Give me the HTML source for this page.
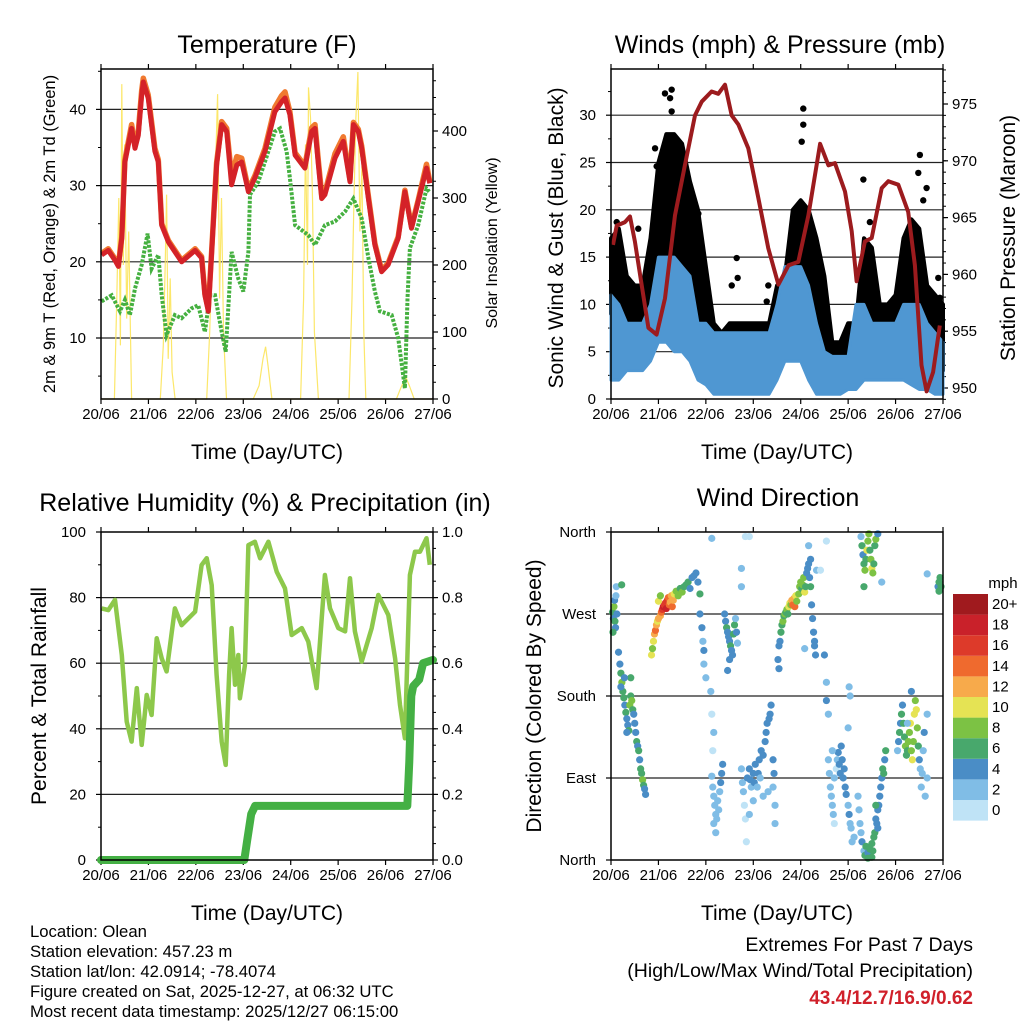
<!DOCTYPE html>
<html><head><meta charset="utf-8"><style>
html,body{margin:0;padding:0;background:#fff;}
svg{display:block;font-family:"Liberation Sans",sans-serif;}
</style></head><body>
<svg id="root" width="1024" height="1024" viewBox="0 0 1024 1024" xmlns="http://www.w3.org/2000/svg">
<rect x="0" y="0" width="1024" height="1024" fill="#fff"/>
<text x="267" y="53" font-size="25" text-anchor="middle">Temperature (F)</text>
<text x="780" y="53" font-size="25" text-anchor="middle">Winds (mph) &amp; Pressure (mb)</text>
<text x="265" y="511" font-size="25" text-anchor="middle">Relative Humidity (%) &amp; Precipitation (in)</text>
<text x="778" y="506" font-size="25" text-anchor="middle">Wind Direction</text>
<text x="267" y="459" font-size="21" text-anchor="middle">Time (Day/UTC)</text>
<text x="777" y="459" font-size="21" text-anchor="middle">Time (Day/UTC)</text>
<text x="267" y="920" font-size="21" text-anchor="middle">Time (Day/UTC)</text>
<text x="777" y="920" font-size="21" text-anchor="middle">Time (Day/UTC)</text>
<text transform="translate(55,234) rotate(-90)" font-size="16.5" text-anchor="middle">2m &amp; 9m T (Red, Orange) &amp; 2m Td (Green)</text>
<text transform="translate(497,243) rotate(-90)" font-size="16" text-anchor="middle">Solar Insolation (Yellow)</text>
<text transform="translate(563,238) rotate(-90)" font-size="21" text-anchor="middle">Sonic Wind &amp; Gust (Blue, Black)</text>
<text transform="translate(1015,238) rotate(-90)" font-size="21" text-anchor="middle">Station Pressure (Maroon)</text>
<text transform="translate(46,696) rotate(-90)" font-size="21" text-anchor="middle">Percent &amp; Total Rainfall</text>
<text transform="translate(541,696) rotate(-90)" font-size="21" text-anchor="middle">Direction (Colored By Speed)</text>
<g font-size="16.7">
<text x="30" y="937">Location: Olean</text>
<text x="30" y="957">Station elevation: 457.23 m</text>
<text x="30" y="977">Station lat/lon: 42.0914; -78.4074</text>
<text x="30" y="997">Figure created on Sat, 2025-12-27, at 06:32 UTC</text>
<text x="30" y="1017">Most recent data timestamp: 2025/12/27 06:15:00</text>
</g>
<text x="973" y="951" font-size="19.5" text-anchor="end">Extremes For Past 7 Days</text>
<text x="973" y="977" font-size="19.5" text-anchor="end">(High/Low/Max Wind/Total Precipitation)</text>
<text x="973" y="1004" font-size="19" font-weight="bold" fill="#d0202a" text-anchor="end">43.4/12.7/16.9/0.62</text>
<text x="1003" y="588" font-size="15" text-anchor="middle">mph</text>
</svg>
<script>
const dayLabels=["20/06","21/06","22/06","23/06","24/06","25/06","26/06","27/06"];
// Temperature panel data (hours since 20/06 00Z)
const tHours=[0.3,3.7,7.1,8.8,10.5,12.1,15.5,17.2,18.9,20.6,21.4,23.9,27.3,29,30.7,34.1,40.8,47.6,50.9,52.6,54.3,56,58.5,61.1,63.6,66.1,68.7,71.2,74.6,77.9,83,88,91.4,93.1,95.6,98.2,103.2,106.6,108.3,110,111.7,113.3,118.4,122.6,126,127.7,130.2,131.9,135.3,138.6,142,145.3,150.4,153.8,157.1,160.5,164.7,166.4];
const temp2m=[20.9,21.5,20.2,19.4,23.1,33.1,37.5,34.9,36.6,41.9,43.6,41.5,34.5,33.1,24.8,22.6,20,21.5,20.5,15.6,13.5,21.3,32.7,38,37.1,30.1,32.7,33.1,29.2,31,34.5,39.7,41,41.5,39.3,34,32.3,37.1,37.5,32.7,28.3,28.8,33.6,35.8,30.5,38,37.1,34.9,28.3,22.2,18.7,19.6,23.1,29.2,24.4,27.9,32.3,30.3];
const temp9m=[21.1,21.7,20.4,19.6,23.3,33.4,38,35.4,37.1,42.5,44.1,41.9,34.9,33.4,25,22.8,20.2,21.7,20.7,15.8,13.8,21.5,33,38.4,37.5,31.2,33.8,33.6,29.5,31.3,34.9,40.3,41.8,42.3,39.7,34.3,32.6,37.6,38,33.2,28.8,29.1,34.2,36.4,30.8,38.3,37.4,35.2,28.6,22.4,18.9,19.8,23.3,29.4,24.6,28.1,32.8,30.5];
const tdHours=[0.3,5.4,9.6,12.1,14.6,17.2,20.6,23.6,25.6,29,30.7,33.2,37.4,40.8,45.9,49.2,52.6,55.1,57.7,61.1,63.1,66.1,69.5,72,74.6,75.4,79.6,84.7,88,90.6,93.9,95.6,98.2,104.9,108.3,113.3,118.4,123.5,127.7,131.9,135.3,138.6,141.2,147.1,150.4,153.8,155.1,156.3,160.5,164.7,166.1];
const dewpoint=[14.8,15.6,13.5,15,13,16.5,19.6,23.7,19.1,20.9,15.6,10.4,13,12.6,13.9,14.3,10.8,15.6,15.6,10.8,8.2,21.3,17.8,16.1,21.3,28.8,30.5,34.5,37.1,37.5,34.5,31,24.8,23.5,22.2,24.8,25.3,26.6,28.3,25.7,20.5,16.1,13.5,13,10,3.4,15.2,21.8,24.8,29.6,29.2];
const solarHours=[0,6.8,8,9,9.8,10.5,11.3,12,13,14,15.5,30,31.5,32.5,33.2,34,35,36,37.5,53.5,55,56.5,58,59,60,61,62,63.5,77,80,82,83.3,84.5,86.5,101,102.5,103.5,104.5,105,106,107,108,110,125.5,127,128,129,130,131,132,133,134,149.5,151.5,153,154.5,156,158.5,168];
const solar=[0,0,150,300,80,470,200,380,120,250,0,0,80,200,305,60,180,40,0,0,100,250,350,455,150,300,100,0,0,20,60,78,50,0,0,150,380,200,465,420,300,100,0,0,150,300,420,488,250,350,100,0,0,15,25,31,20,0,0];
// Winds panel data
const windHours=[0,4,8,12,16,20,24,28,32,36,40,44,48,52,56,60,64,68,72,76,80,84,88,92,96,100,104,108,112,116,120,124,128,132,136,140,144,148,152,156,160,164,168];
const gustHigh=[17,18,13,12,12,17,25,28,28,27,23,20,14,8,7,8,8,8,8,8,8,12,13,20,21,20,17,13,6,6,8,8,17,16,10,10,11,17,19,18,12,11,10];
const gustLow=[9,9,7,7,7,10,14,14,14,12,11,8,5,4,3.5,3.5,3.5,3.5,3.5,3.5,3.5,6,7,10,12,10,8,5,3,3,3.5,3.5,8,7,5,5,5,7,8,7,4,3,3];
const windHigh=[11,10,8,8,8,10,15,15,15,14,13,8,8,7,7,7,7,7,7,7,7,10,14,14,14,12,8,5,4.5,4.5,4.5,10,10,8,8,8,8,10,10,10,8,7,6];
const windLow=[2,2,3,3,3,4,6,6,5,5,4,2,1.5,0.5,0.5,0.5,0.5,0.5,0.5,0.5,0.5,2,4,4,4,2,0.5,0.5,0.5,0.5,1,1,2,2,2,2,2,2,1.5,1,1,0.5,0.5];
const gustDotHours=[27.3,30.7,29.9,30.7,22.3,23.1,63.6,64.1,61.1,97.3,97.3,96.5,127.7,156.3,155.5,159.7,158,13.8,2.9,79.6,78.8,131,165.6,166.4,44.2];
const gustDots=[32.3,32.7,31.8,30.4,26.5,24.6,14.9,12.8,12,30.7,29,27.2,23.2,25.8,23.9,22.3,21,18,18.7,12,10.3,18.7,12.8,10.7,19.6];
const presHours=[1,2.9,7.1,9.6,12.1,15.5,18.9,23.1,27.3,32.4,37.4,42.5,45.9,50.9,54.3,57.7,61.1,64.4,69.5,74.6,79.6,84.7,89.8,94.8,99.9,105.8,110,113.3,118.4,121.8,124.3,128.5,131.9,137,140.3,145.4,150.4,153.8,157.1,159.7,163,166.4];
const pressure=[962.6,964.3,964.6,965.1,962.9,959.1,955.3,954.7,957.9,965.2,969.6,974,975.2,976.1,975.9,976.7,974,973.2,971.1,966.7,962.3,959.1,960.8,961.1,965.2,971.5,969.6,969.8,967.3,963.8,959.4,962.9,963.2,967.6,968.2,967.9,965.5,960.8,952,949.7,951.4,955.5];
// Humidity panel data
const rhHours=[0.3,3.7,7.1,10.5,13,15.5,18.1,20.6,23.1,25.6,28.2,30.7,33.2,37.4,40.8,47.6,50.9,53.5,56,58.5,61.1,63.1,64.8,66.1,67.8,69.5,70.3,72.8,74.6,77.9,80.5,84.7,88.9,93.1,96.5,101.6,104.9,109.1,113.3,115.9,120.1,123.5,126,128.5,131.9,137,140.3,145.4,148.8,151.3,153.8,156.3,158.9,161.4,164.7,166.4];
const rh=[76.7,76.2,79.3,62.5,42.2,36.1,52.4,35.1,50.3,44.2,67.6,61.5,57.5,76.7,71.6,75.7,89.9,92,83.8,56.4,36.1,29,56.4,70.7,53.4,62.5,49.3,59.4,96,97,92,97,87.9,82.8,68.6,70.7,66.6,52.4,86.9,76.7,70.7,69.7,85.9,69.7,60.5,70.7,80.8,74.7,61.5,47.3,37.1,86.9,94,94,98.1,90];
const precipHours=[0,72.5,74,76,78,155,156,157,158,161,163,168];
const precip=[0,0,0.06,0.14,0.165,0.165,0.3,0.5,0.53,0.55,0.6,0.61];
// Wind direction data
const dirHours=[0.8,1.2,1.5,2,2.3,1.8,2.5,1,2.7,3,3.8,4.5,5,5.5,6,6.5,7,7.5,8,8.5,9,9.5,10,10.5,11,11.5,12,12.5,13,13.5,14,14.5,15,15.5,16,16.5,17,17.5,8,10,5,6.8,20.5,21,21.5,22,22.5,23,23.5,24,25,25.5,26,26.5,27,27.5,28,28.5,29,29.5,30,30.5,31,31.5,32,33,34,35,36,37,38,39,40,41,42,43,44,45,45,46,46.5,47,47,48,24,25,51,51.5,52,52.5,53,53.5,54,54.5,55,55.5,56,52,53,56.5,50.5,51,52,51.5,57.5,58,58.5,59,59.5,60,60.5,61,61.5,62,62.5,63,63.5,64,60,59,66,66,70,66,66.5,67,67.5,68,68.5,69,70,70.5,71,72,72.5,73,74,74.5,75,75.5,76,77,77,78,78.5,79,80,80.5,81,82,82,83,83,82.5,79.5,72,70,85,85.5,86,86.5,87,87.5,88,88.5,89,89.5,90,90.5,91,91.5,92,92.5,93,93.5,94,95,95.5,96,96.5,97,97.5,98,98.5,99,99.5,100,100.5,101,101.5,102,102.5,103,103.5,101,104,100,98,84.5,85,103,108,109,110,109,110,110.5,111,111.5,112,112.5,113,113,114,114.5,115,115.5,116,116.5,117,117.5,118,118.5,119,120,120.5,121,121.5,122,123,112,120,121,120.5,126.5,127,127.5,128,128.5,129,129.5,130,130.5,131,131.5,132,132.5,133,128,133.5,134,135,137,125,125.5,126,126.5,127,128,128.5,129,130,131,132,132.5,133,133.5,134,134.5,135,135.5,136,136.5,137,137.5,138,138.5,139,130,132,134,135,145,145.5,146,146.5,147,147.5,148,148.5,149,149.5,150,150.5,151,151.5,152,152.5,153,153.5,154,154.5,155,155.5,156,156.5,157,157.5,158,158.5,159,160,160,152,165.5,166,166.5,166,167,5.4,51,68,109,106,160,150];
const dirDegrees=[272,265,278,262,255,285,290,250,300,270,228,215,205,195,185,178,170,162,155,148,142,170,180,175,165,160,150,140,130,125,120,110,100,95,88,82,78,72,140,200,190,200,225,232,240,248,252,258,262,265,268,272,275,278,280,282,276,285,288,280,283,290,278,285,292,295,290,298,294,300,302,305,298,310,312,315,305,292,270,255,240,230,215,200,284,290,92,80,70,60,50,45,65,55,75,85,95,40,30,105,185,160,140,120,270,262,255,250,245,240,235,230,225,248,258,265,250,238,220,208,320,300,355,100,85,75,60,45,20,90,100,88,80,95,85,105,80,95,110,90,120,115,70,130,140,150,155,160,170,110,80,60,40,95,75,65,50,235,240,250,258,262,268,270,272,275,270,278,282,280,285,280,287,278,290,284,292,300,305,298,302,310,294,300,315,320,325,310,300,280,265,250,240,225,330,318,345,232,220,210,235,225,175,160,195,110,95,80,70,60,50,40,90,100,110,118,105,95,125,110,90,100,80,72,60,50,40,35,20,25,120,145,180,190,355,345,335,325,318,330,340,350,358,340,330,320,315,325,300,345,352,358,305,70,55,40,30,20,10,5,15,8,12,18,10,25,30,45,40,55,60,70,80,90,100,95,110,120,2,3,60,35,120,130,140,150,160,170,150,135,125,115,120,130,140,150,120,110,130,160,175,165,145,125,110,100,80,95,120,140,70,90,160,185,300,305,310,295,300,302,353,355,350,318,314,150];
const dirSpeeds=[6,4,8,6,5,4,3,6,2,5,4,5,6,8,6,7,5,6,4,5,6,8,7,9,6,4,5,4,6,5,6,4,7,6,8,7,5,4,4,6,5,4,10,9,10,12,14,12,11,13,12,14,16,18,17,16,18,16,14,15,13,12,14,12,10,9,8,7,8,6,6,7,5,4,5,4,4,6,4,4,3,4,2,2,10,8,2,2,3,2,2,2,3,2,3,4,4,2,2,4,2,1,2,1,4,4,6,4,4,4,6,4,4,6,6,2,4,3,4,4,2,2,1,3,2,2,1,1,1,4,4,4,3,4,4,4,3,4,4,3,4,4,3,4,4,4,4,5,4,4,3,3,3,4,3,2,3,4,5,6,6,8,7,8,6,8,7,10,10,9,12,14,12,14,10,8,8,8,8,7,8,8,10,6,4,4,4,4,6,4,4,4,4,4,4,2,2,2,4,4,4,4,4,2,2,3,2,2,2,2,2,1,2,1,2,4,4,4,4,4,4,4,4,4,3,4,2,2,3,2,2,2,2,2,2,6,4,6,8,6,10,8,8,6,8,10,8,6,6,6,8,4,2,2,2,2,3,4,3,6,6,4,6,6,6,6,6,4,4,4,4,4,4,4,6,6,4,6,6,6,6,4,3,4,6,4,6,4,6,6,8,6,6,8,8,10,8,10,8,10,8,10,8,6,4,2,2,2,2,4,2,2,2,4,4,6,6,6,6,6,2,1,1,1,2,3,4];
const speedColors=["#bfe3f6","#80bde6","#4a8dc6","#48a86c","#7cc244","#e5e354","#f7aa4b","#ef6a2e","#dd3a2a","#c9212a","#a01a1e"];
const speedLabels=["0","2","4","6","8","10","12","14","16","18","20+"];
const dirLabels=["North","East","South","West","North"];
const tempTicks=["10","20","30","40"];
const solarTicks=["0","100","200","300","400"];
const windTicks=["0","5","10","15","20","25","30"];
const presTicks=["950","955","960","965","970","975"];
const rhTicks=["0","20","40","60","80","100"];
const prTicks=["0.0","0.2","0.4","0.6","0.8","1.0"];

const NS="http://www.w3.org/2000/svg";
const root=document.getElementById('root');
function mk(tag,attrs,parent){const e=document.createElementNS(NS,tag);for(const k in attrs)e.setAttribute(k,attrs[k]);(parent||root).appendChild(e);return e;}

const P1={x0:101,x1:433,y0:69,y1:399},P2={x0:611,x1:943,y0:69,y1:399},P3={x0:101,x1:433,y0:532,y1:860},P4={x0:611,x1:943,y0:532,y1:860};
function xs(P,h){return P.x0+h/168*(P.x1-P.x0);}
const yT=v=>338-(v-10)*7.62, ySol=v=>399-v*0.67;
const yW=v=>399-v*9.46, yP=p=>388-(p-950)*11.36;
const yRH=v=>860-v*3.28, yPr=v=>860-v*328;
const yD=d=>860-d/360*328;

function frame(P,name,grid,leftTicks,leftMinor,rightTicks,rightMinor,leftLabels,rightLabels){
  const g=mk('g',{});
  
  
  grid.forEach(y=>{const l=mk('line',{x1:P.x0,x2:P.x1,y1:y,y2:y,stroke:'#222','stroke-width':1.2},g);
    
    });
  for(let d=0;d<=7;d++){const x=xs(P,d*24);
    mk('line',{x1:x,x2:x,y1:P.y1,y2:P.y1+5,stroke:'#000','stroke-width':1.2},g);
    mk('line',{x1:x,x2:x,y1:P.y0,y2:P.y0-5,stroke:'#000','stroke-width':1.2},g);
    const t=mk('text',{x:x,y:P.y1+20,'font-size':15,'text-anchor':'middle'},g);t.textContent=dayLabels[d];
    
    }
  leftTicks.forEach((y,i)=>{mk('line',{x1:P.x0-5,x2:P.x0,y1:y,y2:y,stroke:'#000','stroke-width':1.2},g);
    if(leftLabels){const t=mk('text',{x:P.x0-15,y:y+5,'font-size':15,'text-anchor':'end'},g);t.textContent=leftLabels[i];
    
    }});
  leftMinor.forEach(y=>mk('line',{x1:P.x0-3,x2:P.x0,y1:y,y2:y,stroke:'#000','stroke-width':1},g));
  rightTicks.forEach((y,i)=>{mk('line',{x1:P.x1,x2:P.x1+5,y1:y,y2:y,stroke:'#000','stroke-width':1.2},g);
    if(rightLabels){const t=mk('text',{x:P.x1+9,y:y+5,'font-size':15},g);t.textContent=rightLabels[i];
    
    }});
  rightMinor.forEach(y=>mk('line',{x1:P.x1,x2:P.x1+3,y1:y,y2:y,stroke:'#000','stroke-width':1},g));
}
function border(P,name){const r=mk('rect',{x:P.x0,y:P.y0,width:P.x1-P.x0,height:P.y1-P.y0,fill:'none',stroke:'#000','stroke-width':1.5});
  
  }
function path(P,hs,vs,yf){return hs.map((h,i)=>(i?'L':'M')+xs(P,h).toFixed(1)+','+yf(vs[i]).toFixed(1)).join('');}
function band(P,hs,hi,lo,yf){let d=hs.map((h,i)=>(i?'L':'M')+xs(P,h).toFixed(1)+','+yf(hi[i]).toFixed(1)).join('');
  for(let i=hs.length-1;i>=0;i--)d+='L'+xs(P,hs[i]).toFixed(1)+','+yf(lo[i]).toFixed(1);return d+'Z';}
const range=(a,b,s)=>{const r=[];for(let v=a;v<=b+1e-9;v+=s)r.push(v);return r;};

// Panel 1
frame(P1,'temperature',[10,20,30,40].map(yT),[10,20,30,40].map(yT),[5,15,25,35,45].map(yT),[0,100,200,300,400].map(ySol),range(25,475,25).map(ySol),tempTicks,solarTicks);
const sol=mk('path',{d:path(P1,solarHours,solar,ySol),fill:'none',stroke:'#fce45a','stroke-width':1.2,opacity:0.9});


const dp=mk('path',{d:path(P1,tdHours,dewpoint,yT),fill:'none',stroke:'#45b040','stroke-width':4,'stroke-dasharray':'3 1.5'});


const t9=mk('path',{d:path(P1,tHours,temp9m,yT),fill:'none',stroke:'#f07a30','stroke-width':5.5,'stroke-linejoin':'round'});


const t2=mk('path',{d:path(P1,tHours,temp2m,yT),fill:'none',stroke:'#d42228','stroke-width':5,'stroke-linejoin':'round'});


border(P1,'temperature');

// Panel 2
frame(P2,'winds',[5,10,15,20,25,30].map(yW),[0,5,10,15,20,25,30].map(yW),range(2.5,32.5,5).map(yW),[950,955,960,965,970,975].map(yP),range(949,978,1).map(yP),windTicks,presTicks);
const gb=mk('path',{d:band(P2,windHours,gustHigh,gustLow,yW),fill:'#000',stroke:'#000','stroke-width':4,'stroke-linejoin':'round'});


const wb=mk('path',{d:band(P2,windHours,windHigh,windLow,yW),fill:'#4f97d2',stroke:'#4f97d2','stroke-width':3,'stroke-linejoin':'round'});


gustDotHours.forEach((h,i)=>{const c=mk('circle',{cx:xs(P2,h),cy:yW(gustDots[i]),r:3.2,fill:'#000'});
  
  });
const pr=mk('path',{d:path(P2,presHours,pressure,yP),fill:'none',stroke:'#9c1b1e','stroke-width':4,'stroke-linejoin':'round'});


border(P2,'winds');

// Panel 3
frame(P3,'humidity',[20,40,60,80].map(yRH),[0,20,40,60,80,100].map(yRH),range(10,90,20).map(yRH),[0,0.2,0.4,0.6,0.8,1].map(yPr),range(0.05,0.95,0.05).map(yPr),rhTicks,prTicks);
const rl=mk('path',{d:path(P3,rhHours,rh,yRH),fill:'none',stroke:'#8dc84b','stroke-width':4.5,'stroke-linejoin':'round'});


const pl=mk('path',{d:path(P3,precipHours,precip,yPr),fill:'none',stroke:'#44b044','stroke-width':8,'stroke-linejoin':'round','stroke-linecap':'round'});


border(P3,'humidity');

// Panel 4
frame(P4,'direction',[90,180,270].map(yD),[0,90,180,270,360].map(yD),[],[],[],dirLabels,null);
dirHours.forEach((h,i)=>{const s=dirSpeeds[i];const b=Math.min(10,Math.floor(s/2));
  const c=mk('circle',{cx:xs(P4,h),cy:yD(dirDegrees[i]),r:3.6,fill:speedColors[b]});
  
  });
border(P4,'direction');

// Colorbar
speedLabels.forEach((lab,i)=>{const y=594+(10-i)*20.6;
  const r=mk('rect',{x:953,y:y,width:35,height:20.6,fill:speedColors[i]});
  
  
  const t=mk('text',{x:992,y:y+15,'font-size':15},root);t.textContent=lab;
  
  });
</script>
</body></html>
